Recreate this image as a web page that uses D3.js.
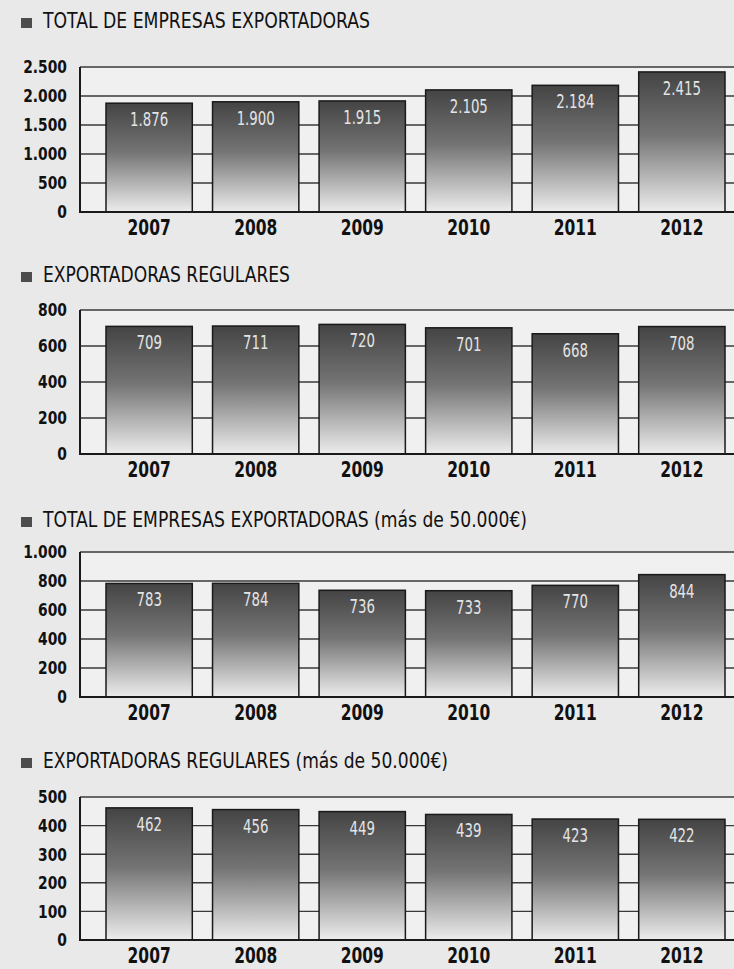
<!DOCTYPE html>
<html>
<head>
<meta charset="utf-8">
<script src="https://cdn.jsdelivr.net/npm/d3@7"></script>
<style>
  html, body { margin: 0; padding: 0; background: #e9e9e9; }
  svg { display: block; }
</style>
</head>
<body>
<script>
// ---- DATA ----
const years = ["2007", "2008", "2009", "2010", "2011", "2012"];

const titles = [
  "TOTAL DE EMPRESAS EXPORTADORAS",
  "EXPORTADORAS REGULARES",
  "TOTAL DE EMPRESAS EXPORTADORAS (más de 50.000€)",
  "EXPORTADORAS REGULARES (más de 50.000€)"
];

const totalExportadoras = [1876, 1900, 1915, 2105, 2184, 2415];
const exportadorasRegulares = [709, 711, 720, 701, 668, 708];
const totalMas50000 = [783, 784, 736, 733, 770, 844];
const regularesMas50000 = [462, 456, 449, 439, 423, 422];

const ticks1 = [0, 500, 1000, 1500, 2000, 2500];
const ticks2 = [0, 200, 400, 600, 800];
const ticks3 = [0, 200, 400, 600, 800, 1000];
const ticks4 = [0, 100, 200, 300, 400, 500];

// ---- LAYOUT ----
const W = 734, H = 969;
const panels = [
  { title: titles[0], values: totalExportadoras, ticks: ticks1, titleY: 28, top: 67, base: 212, titleW: 327 },
  { title: titles[1], values: exportadorasRegulares, ticks: ticks2, titleY: 282, top: 310, base: 454, titleW: 247 },
  { title: titles[2], values: totalMas50000, ticks: ticks3, titleY: 527, top: 552, base: 697, titleW: 484 },
  { title: titles[3], values: regularesMas50000, ticks: ticks4, titleY: 768, top: 797, base: 940, titleW: 405 }
];

const fmt = d3.formatLocale({ decimal: ",", thousands: ".", grouping: [3], currency: ["", "€"] }).format(",d");

const svg = d3.select("body").append("svg")
  .attr("width", W).attr("height", H)
  .style("background", "#e9e9e9");

const defs = svg.append("defs");
const grad = defs.append("linearGradient")
  .attr("id", "barGrad").attr("x1", 0).attr("y1", 0).attr("x2", 0).attr("y2", 1);
grad.append("stop").attr("offset", "0%").attr("stop-color", "#444");
grad.append("stop").attr("offset", "45%").attr("stop-color", "#747474");
grad.append("stop").attr("offset", "100%").attr("stop-color", "#ededed");

const x = d3.scaleBand().domain(years).range([80, 751]).paddingInner(0.19).paddingOuter(0.244);

const cond = '"DejaVu Sans Condensed", "DejaVu Sans", sans-serif';

panels.forEach(p => {
  const g = svg.append("g");
  const maxT = p.ticks[p.ticks.length - 1];
  const y = d3.scaleLinear().domain([0, maxT]).range([p.base, p.top]);

  // title bullet + title
  g.append("rect").attr("x", 21).attr("y", p.titleY - 10).attr("width", 11).attr("height", 10)
    .attr("fill", "#4d4d4d");
  g.append("text").attr("x", 43).attr("y", p.titleY)
    .attr("font-family", cond).attr("font-size", 21.5).attr("fill", "#111")
    .attr("textLength", p.titleW).attr("lengthAdjust", "spacingAndGlyphs")
    .text(p.title);

  // plot background
  g.append("rect").attr("x", 80).attr("y", p.top).attr("width", W - 80).attr("height", p.base - p.top)
    .attr("fill", "#f0f0f0");

  // gridlines
  g.selectAll("line.grid").data(p.ticks.filter(t => t > 0)).join("line")
    .attr("class", "grid")
    .attr("x1", 80).attr("x2", W)
    .attr("y1", d => y(d)).attr("y2", d => y(d))
    .attr("stroke", "#3a3a3a").attr("stroke-width", 1.4);

  // bars
  g.selectAll("rect.bar").data(p.values).join("rect")
    .attr("class", "bar")
    .attr("x", (d, i) => x(years[i]))
    .attr("width", x.bandwidth())
    .attr("y", d => y(d))
    .attr("height", d => p.base - y(d))
    .attr("fill", "url(#barGrad)")
    .attr("stroke", "#1a1a1a").attr("stroke-width", 1.5);

  // value labels (horizontally condensed)
  g.selectAll("text.val").data(p.values).join("text")
    .attr("class", "val")
    .attr("transform", (d, i) => `translate(${x(years[i]) + x.bandwidth() / 2},${y(d) + 23}) scale(0.78,1)`)
    .attr("text-anchor", "middle")
    .attr("font-family", cond).attr("font-size", 19).attr("font-weight", 300)
    .attr("fill", "#e4e4e4")
    .text(d => fmt(d));

  // left axis line and baseline
  g.append("line").attr("x1", 80).attr("x2", 80).attr("y1", p.top).attr("y2", p.base)
    .attr("stroke", "#1a1a1a").attr("stroke-width", 2);
  g.append("line").attr("x1", 79).attr("x2", W).attr("y1", p.base).attr("y2", p.base)
    .attr("stroke", "#1a1a1a").attr("stroke-width", 2.2);

  // y tick labels
  g.selectAll("text.tick").data(p.ticks).join("text")
    .attr("class", "tick")
    .attr("transform", d => `translate(67,${y(d)}) scale(0.88,1)`)
    .attr("dy", "0.36em")
    .attr("text-anchor", "end")
    .attr("font-family", cond)
    .attr("font-weight", "bold").attr("font-size", 17.5).attr("fill", "#111")
    .text(d => fmt(d));

  // x labels (horizontally condensed)
  g.selectAll("text.year").data(years).join("text")
    .attr("class", "year")
    .attr("transform", d => `translate(${x(d) + x.bandwidth() / 2},${p.base + 23}) scale(0.84,1)`)
    .attr("text-anchor", "middle")
    .attr("font-family", cond).attr("font-weight", "bold").attr("font-size", 20.5).attr("fill", "#111")
    .text(d => d);
});
</script>
</body>
</html>
